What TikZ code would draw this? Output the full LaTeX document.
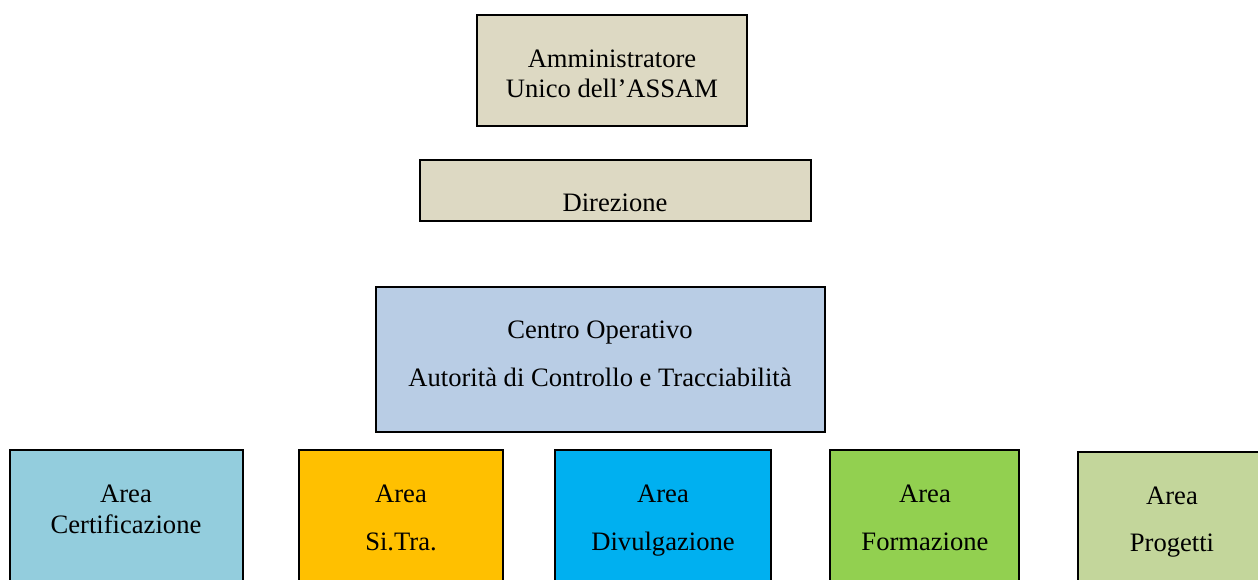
\documentclass[tikz,border=0pt]{standalone}
\usepackage{fontspec}
\setmainfont{Liberation Serif}
\definecolor{tan}{HTML}{DDD9C3}
\definecolor{paleblue}{HTML}{B9CDE5}
\definecolor{aqua}{HTML}{93CDDD}
\definecolor{amber}{HTML}{FFC000}
\definecolor{sky}{HTML}{00B0F0}
\definecolor{lime}{HTML}{92D050}
\definecolor{olive}{HTML}{C3D69B}
\begin{document}
\begin{tikzpicture}[x=1pt,y=-1pt,
  box/.style={draw=black,line width=2pt,inner sep=0pt},
  lbl/.style={font=\fontsize{26.6}{30}\selectfont,inner sep=0pt,anchor=base},
]
\useasboundingbox (0,0) rectangle (1258,579);
\clip (0,0) rectangle (1258,579);
\fill[white] (0,0) rectangle (1258,579);
% boxes
\draw[box,fill=tan] (477,15) rectangle (747,126) node[coordinate] (amm) {};
\draw[box,fill=tan] (420,160) rectangle (811,221) node[coordinate] (dir) {};
\draw[box,fill=paleblue] (376,287) rectangle (825,432) node[coordinate] (cen) {};
\draw[box,fill=aqua] (10,450) rectangle (243,600) node[coordinate] (cert) {};
\draw[box,fill=amber] (299,450) rectangle (503,600) node[coordinate] (sitra) {};
\draw[box,fill=sky] (555,450) rectangle (771,600) node[coordinate] (divu) {};
\draw[box,fill=lime] (830,450) rectangle (1019,600) node[coordinate] (form) {};
\draw[box,fill=olive] (1078,452) rectangle (1290,600) node[coordinate] (prog) {};
% texts
\node[lbl] (t1) at (612,67) {Amministratore};
\node[lbl] (t2) at (612,97) {Unico dell’ASSAM};
\node[lbl] (t3) at (615,211) {Direzione};
\node[lbl] (t4) at (600,338) {Centro Operativo};
\node[lbl] (t5) at (600,386) {Autorità di Controllo e Tracciabilità};
\node[lbl] (t6) at (126,502) {Area};
\node[lbl] (t7) at (126,533) {Certificazione};
\node[lbl] (t8) at (401,502) {Area};
\node[lbl] (t9) at (401,550) {Si.Tra.};
\node[lbl] (t10) at (663,502) {Area};
\node[lbl] (t11) at (663,550) {Divulgazione};
\node[lbl] (t12) at (925,502) {Area};
\node[lbl] (t13) at (925,550) {Formazione};
\node[lbl] (t14) at (1172,504) {Area};
\node[lbl] (t15) at (1172,551) {Progetti};
\end{tikzpicture}
\end{document}
